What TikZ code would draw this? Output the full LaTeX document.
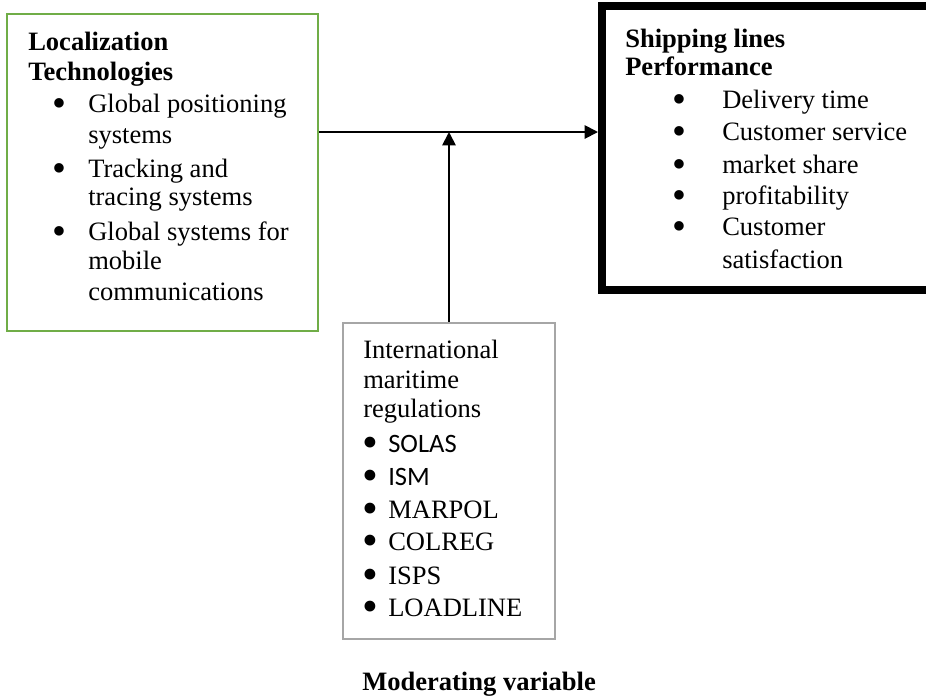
\documentclass[tikz,border=0pt]{standalone}
\usepackage{fontspec}
\setmainfont{Liberation Serif}
\newfontfamily\calibrifont{Carlito}
\usetikzlibrary{arrows.meta,positioning,fit}
\definecolor{LeafGreen}{RGB}{112,173,71}
\definecolor{FrameGray}{RGB}{166,166,166}
\newcommand{\bigdot}[2]{\smash{\raisebox{#2}{\scalebox{#1}{\textbullet}}}}
\tikzset{
  techbox/.style ={rectangle, draw=LeafGreen, line width=1.5pt, inner sep=0pt},
  perfbox/.style ={rectangle, draw=black, line width=6pt, inner sep=0pt},
  regbox/.style  ={rectangle, draw=FrameGray, line width=1.9pt, inner sep=0pt},
  txt/.style     ={anchor=base west, inner sep=0pt, font=\fontsize{19.9pt}{22.5pt}\selectfont},
  head/.style    ={txt, font=\fontsize{19.9pt}{22pt}\selectfont\bfseries},
  bul/.style     ={anchor=base west, inner sep=0pt, font=\fontsize{19.9pt}{22.5pt}\selectfont},
  arr/.style     ={-{Triangle[length=10pt,width=10pt]}, line width=1.4pt},
}

\begin{document}
\begin{tikzpicture}[x=0.75pt,y=-0.75pt]
  \useasboundingbox (0,0) rectangle (926,700);
  \clip (0,0) rectangle (926,700);

  \node[techbox, fit={(7,14) (318,331)}] (tech) {};
  \node[head] (techh1) at (28,50) {Localization};
  \node[head] (techh2) at (28,80) {Technologies};
  \foreach \i/\y/\lbl in {1/112/Global positioning, 2/143/systems,
                          3/177/Tracking and, 4/205/tracing systems,
                          5/240/Global systems for, 6/269/mobile, 7/300/communications}{
    \node[txt] (ti\i) at (88,\y) {\lbl};
  }
  \foreach \i/\y in {1/112,2/177,3/240}{\node[bul] (tb\i) at (52,\y) {\bigdot{1.5}{-3.2pt}};}

  \node[perfbox, fit={(602,6) (960,290)}] (perf) {};
  \node[head] (perfh1) at (625,47) {Shipping lines};
  \node[head] (perfh2) at (625,75) {Performance};
  \foreach \i/\y/\lbl in {1/108/Delivery time, 2/140/Customer service,
                          3/173/market share, 4/204/profitability,
                          5/235/Customer, 6/268/satisfaction}{
    \node[txt] (pi\i) at (722,\y) {\lbl};
  }
  \foreach \i/\y in {1/108,2/140,3/173,4/204,5/235}{\node[bul] (pb\i) at (672,\y) {\bigdot{1.5}{-3.2pt}};}

  \node[regbox, fit={(343,323) (555,639)}] (reg) {};
  \foreach \i/\y/\lbl in {1/358/International, 2/388/maritime, 3/417/regulations}{
    \node[txt] (rh\i) at (363,\y) {\lbl};
  }
  \foreach \i/\y/\lbl in {1/452/{\calibrifont SOLAS}, 2/485/{\calibrifont ISM},
                          3/518/MARPOL, 4/550/COLREG, 5/584/ISPS, 6/616/LOADLINE}{
    \node[bul] (rb\i) at (362,\y) {\bigdot{1.7}{-4pt}};
    \node[txt] (ri\i) at (388,\y) {\lbl};
  }

  \node[head] (modvar) at (362,690) {Moderating variable};

  \coordinate (lvl) at (0,132);
  \draw[arr] (tech.east |- lvl) -- (perf.west |- lvl);
  \draw[arr] (reg.north) -- (reg.north |- lvl);
\end{tikzpicture}
\end{document}
